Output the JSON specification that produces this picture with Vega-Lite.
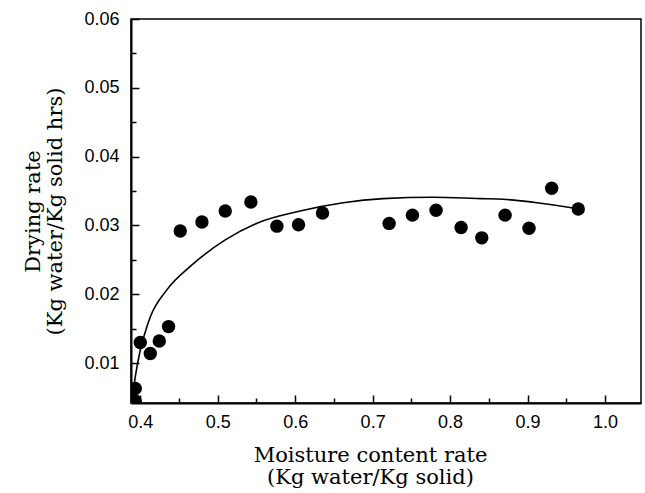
{
  "$schema": "https://vega.github.io/schema/vega-lite/v6.json",
  "width": 510,
  "height": 384,
  "autosize": {"type": "none"},
  "padding": {"left": 131, "top": 19, "right": 4, "bottom": 90},
  "background": "white",
  "config": {
    "view": {"stroke": "black", "strokeWidth": 1.5},
    "axis": {
      "domainColor": "black",
      "domainWidth": 2,
      "tickColor": "black",
      "tickWidth": 1.5,
      "grid": false,
      "labelFont": "Liberation Sans",
      "labelFontSize": 18,
      "labelColor": "black",
      "titleFont": "DejaVu Serif",
      "titleFontSize": 21,
      "titleFontWeight": "normal",
      "titleColor": "black",
      "titleLineHeight": 22
    }
  },
  "datasets": {
    "points": [
      {"x": 0.3935, "y": 0.0063},
      {"x": 0.3935, "y": 0.0045},
      {"x": 0.400, "y": 0.0130},
      {"x": 0.4129, "y": 0.0114},
      {"x": 0.4245, "y": 0.0132},
      {"x": 0.4365, "y": 0.0153},
      {"x": 0.4516, "y": 0.0292},
      {"x": 0.4796, "y": 0.0305},
      {"x": 0.5097, "y": 0.0321},
      {"x": 0.5428, "y": 0.0334},
      {"x": 0.5764, "y": 0.0299},
      {"x": 0.6043, "y": 0.0301},
      {"x": 0.6353, "y": 0.0318},
      {"x": 0.7213, "y": 0.0303},
      {"x": 0.7514, "y": 0.0315},
      {"x": 0.7819, "y": 0.0322},
      {"x": 0.8142, "y": 0.0297},
      {"x": 0.8409, "y": 0.0282},
      {"x": 0.8710, "y": 0.0315},
      {"x": 0.9019, "y": 0.0296},
      {"x": 0.9312, "y": 0.0354},
      {"x": 0.9655, "y": 0.0324}
    ],
    "curve": [
      {"x": 0.3893, "y": 0.0046},
      {"x": 0.3935, "y": 0.0080},
      {"x": 0.4000, "y": 0.0119},
      {"x": 0.4086, "y": 0.0153},
      {"x": 0.4129, "y": 0.0167},
      {"x": 0.4340, "y": 0.0206},
      {"x": 0.4671, "y": 0.0243},
      {"x": 0.5097, "y": 0.0279},
      {"x": 0.5523, "y": 0.0304},
      {"x": 0.6065, "y": 0.0321},
      {"x": 0.6619, "y": 0.0333},
      {"x": 0.7135, "y": 0.0339},
      {"x": 0.7780, "y": 0.0341},
      {"x": 0.8387, "y": 0.0339},
      {"x": 0.8684, "y": 0.0338},
      {"x": 0.9123, "y": 0.0333},
      {"x": 0.9548, "y": 0.0326},
      {"x": 0.9650, "y": 0.0324}
    ]
  },
  "resolve": {
    "scale": {"x": "independent", "y": "independent"},
    "axis": {"x": "independent", "y": "independent"}
  },
  "layer": [
    {
      "data": {"name": "curve"},
      "mark": {"type": "line", "color": "black", "strokeWidth": 1.6, "interpolate": "monotone", "clip": true},
      "encoding": {
        "x": {
          "field": "x", "type": "quantitative",
          "scale": {"domain": [0.388, 1.0465], "nice": false, "zero": false},
          "axis": {
            "orient": "bottom",
            "values": [0.4, 0.5, 0.6, 0.7, 0.8, 0.9, 1.0],
            "format": ".1f",
            "tickSize": -8,
            "labelPadding": 18,
            "labelFlush": false,
            "title": ["Moisture content rate", "(Kg water/Kg solid)"],
            "titleX": 239,
            "titleY": 41,
            "titleAlign": "center",
            "titleBaseline": "top"
          }
        },
        "y": {
          "field": "y", "type": "quantitative",
          "scale": {"domain": [0.0042, 0.06], "nice": false, "zero": false},
          "axis": {
            "orient": "left",
            "values": [0.01, 0.02, 0.03, 0.04, 0.05, 0.06],
            "format": ".2f",
            "tickSize": -8,
            "labelPadding": 20,
            "labelFlush": false,
            "title": ["Drying rate", "(Kg water/Kg solid hrs)"],
            "titleX": -88,
            "titleY": 192,
            "titleAngle": -90,
            "titleAlign": "center",
            "titleBaseline": "bottom"
          }
        }
      }
    },
    {
      "data": {"name": "points"},
      "mark": {"type": "circle", "color": "black", "opacity": 1, "size": 180, "clip": true},
      "encoding": {
        "x": {
          "field": "x", "type": "quantitative",
          "scale": {"domain": [0.388, 1.0465], "nice": false, "zero": false},
          "axis": {
            "orient": "bottom",
            "values": [0.45, 0.55, 0.65, 0.75, 0.85, 0.95],
            "tickSize": -5,
            "labels": false,
            "domain": false,
            "title": null
          }
        },
        "y": {
          "field": "y", "type": "quantitative",
          "scale": {"domain": [0.0042, 0.06], "nice": false, "zero": false},
          "axis": {
            "orient": "left",
            "values": [0.005, 0.015, 0.025, 0.035, 0.045, 0.055],
            "tickSize": -5,
            "labels": false,
            "domain": false,
            "title": null
          }
        }
      }
    }
  ]
}
